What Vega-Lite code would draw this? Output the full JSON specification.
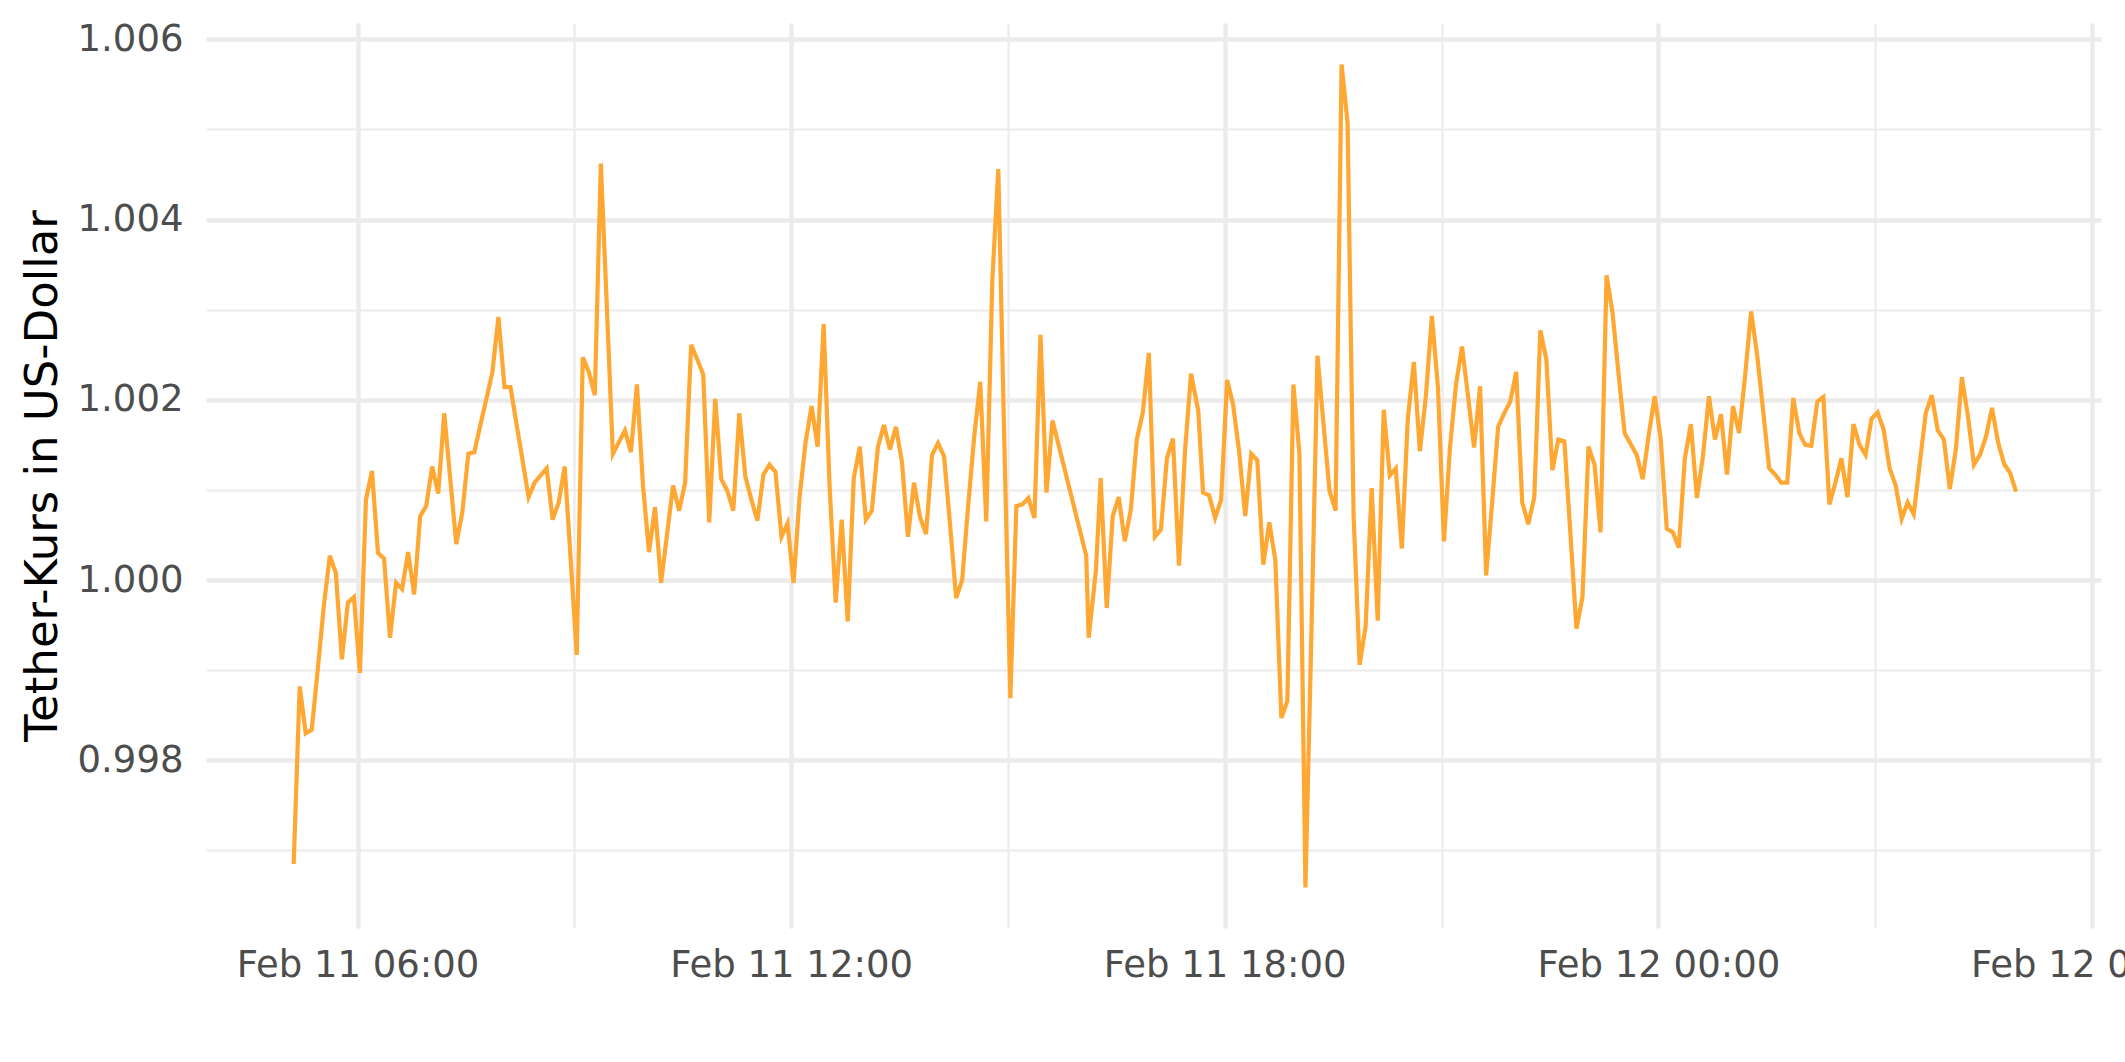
{
  "$schema": "https://vega.github.io/schema/vega-lite/v6.json",
  "width": 1895,
  "height": 905,
  "autosize": {"type": "none"},
  "padding": {"left": 206, "top": 23, "right": 24, "bottom": 134},
  "background": "white",
  "config": {
    "view": {"stroke": null},
    "axis": {
      "domain": false,
      "ticks": false,
      "labelFont": "DejaVu Sans",
      "labelFontSize": 37,
      "labelColor": "#4D4D4D",
      "labelLimit": 1000,
      "gridColor": "#EBEBEB",
      "titleFont": "DejaVu Sans"
    }
  },
  "data": {
    "values": [
      {"t": "2022-02-11T05:07:00Z", "p": 0.99685},
      {"t": "2022-02-11T05:12:00Z", "p": 0.99882},
      {"t": "2022-02-11T05:17:00Z", "p": 0.99830},
      {"t": "2022-02-11T05:22:00Z", "p": 0.99834},
      {"t": "2022-02-11T05:27:00Z", "p": 0.99901},
      {"t": "2022-02-11T05:32:00Z", "p": 0.99971},
      {"t": "2022-02-11T05:37:00Z", "p": 1.00027},
      {"t": "2022-02-11T05:42:00Z", "p": 1.00008},
      {"t": "2022-02-11T05:47:00Z", "p": 0.99912},
      {"t": "2022-02-11T05:52:00Z", "p": 0.99975},
      {"t": "2022-02-11T05:57:00Z", "p": 0.99981},
      {"t": "2022-02-11T06:02:00Z", "p": 0.99897},
      {"t": "2022-02-11T06:07:00Z", "p": 1.00089},
      {"t": "2022-02-11T06:12:00Z", "p": 1.00121},
      {"t": "2022-02-11T06:17:00Z", "p": 1.00030},
      {"t": "2022-02-11T06:22:00Z", "p": 1.00024},
      {"t": "2022-02-11T06:27:00Z", "p": 0.99936},
      {"t": "2022-02-11T06:32:00Z", "p": 0.99997},
      {"t": "2022-02-11T06:37:00Z", "p": 0.99990},
      {"t": "2022-02-11T06:42:00Z", "p": 1.00031},
      {"t": "2022-02-11T06:47:00Z", "p": 0.99984},
      {"t": "2022-02-11T06:52:00Z", "p": 1.00071},
      {"t": "2022-02-11T06:57:00Z", "p": 1.00082},
      {"t": "2022-02-11T07:02:00Z", "p": 1.00126},
      {"t": "2022-02-11T07:07:00Z", "p": 1.00096},
      {"t": "2022-02-11T07:12:00Z", "p": 1.00185},
      {"t": "2022-02-11T07:17:00Z", "p": 1.00112},
      {"t": "2022-02-11T07:22:00Z", "p": 1.00040},
      {"t": "2022-02-11T07:27:00Z", "p": 1.00075},
      {"t": "2022-02-11T07:32:00Z", "p": 1.00140},
      {"t": "2022-02-11T07:37:00Z", "p": 1.00142},
      {"t": "2022-02-11T07:42:00Z", "p": 1.00172},
      {"t": "2022-02-11T07:47:00Z", "p": 1.00201},
      {"t": "2022-02-11T07:52:00Z", "p": 1.00231},
      {"t": "2022-02-11T07:57:00Z", "p": 1.00292},
      {"t": "2022-02-11T08:02:00Z", "p": 1.00214},
      {"t": "2022-02-11T08:07:00Z", "p": 1.00214},
      {"t": "2022-02-11T08:12:00Z", "p": 1.00173},
      {"t": "2022-02-11T08:17:00Z", "p": 1.00133},
      {"t": "2022-02-11T08:22:00Z", "p": 1.00092},
      {"t": "2022-02-11T08:27:00Z", "p": 1.00108},
      {"t": "2022-02-11T08:32:00Z", "p": 1.00116},
      {"t": "2022-02-11T08:37:00Z", "p": 1.00124},
      {"t": "2022-02-11T08:42:00Z", "p": 1.00067},
      {"t": "2022-02-11T08:47:00Z", "p": 1.00086},
      {"t": "2022-02-11T08:52:00Z", "p": 1.00126},
      {"t": "2022-02-11T08:57:00Z", "p": 1.00022},
      {"t": "2022-02-11T09:02:00Z", "p": 0.99917},
      {"t": "2022-02-11T09:07:00Z", "p": 1.00247},
      {"t": "2022-02-11T09:12:00Z", "p": 1.00231},
      {"t": "2022-02-11T09:17:00Z", "p": 1.00205},
      {"t": "2022-02-11T09:22:00Z", "p": 1.00462},
      {"t": "2022-02-11T09:27:00Z", "p": 1.00303},
      {"t": "2022-02-11T09:32:00Z", "p": 1.00140},
      {"t": "2022-02-11T09:37:00Z", "p": 1.00153},
      {"t": "2022-02-11T09:42:00Z", "p": 1.00166},
      {"t": "2022-02-11T09:47:00Z", "p": 1.00142},
      {"t": "2022-02-11T09:52:00Z", "p": 1.00217},
      {"t": "2022-02-11T09:57:00Z", "p": 1.00105},
      {"t": "2022-02-11T10:02:00Z", "p": 1.00031},
      {"t": "2022-02-11T10:07:00Z", "p": 1.00081},
      {"t": "2022-02-11T10:12:00Z", "p": 0.99997},
      {"t": "2022-02-11T10:17:00Z", "p": 1.00051},
      {"t": "2022-02-11T10:22:00Z", "p": 1.00105},
      {"t": "2022-02-11T10:27:00Z", "p": 1.00077},
      {"t": "2022-02-11T10:32:00Z", "p": 1.00108},
      {"t": "2022-02-11T10:37:00Z", "p": 1.00261},
      {"t": "2022-02-11T10:42:00Z", "p": 1.00245},
      {"t": "2022-02-11T10:47:00Z", "p": 1.00228},
      {"t": "2022-02-11T10:52:00Z", "p": 1.00064},
      {"t": "2022-02-11T10:57:00Z", "p": 1.00201},
      {"t": "2022-02-11T11:02:00Z", "p": 1.00112},
      {"t": "2022-02-11T11:07:00Z", "p": 1.00099},
      {"t": "2022-02-11T11:12:00Z", "p": 1.00077},
      {"t": "2022-02-11T11:17:00Z", "p": 1.00185},
      {"t": "2022-02-11T11:22:00Z", "p": 1.00115},
      {"t": "2022-02-11T11:27:00Z", "p": 1.00089},
      {"t": "2022-02-11T11:32:00Z", "p": 1.00066},
      {"t": "2022-02-11T11:37:00Z", "p": 1.00117},
      {"t": "2022-02-11T11:42:00Z", "p": 1.00128},
      {"t": "2022-02-11T11:47:00Z", "p": 1.00120},
      {"t": "2022-02-11T11:52:00Z", "p": 1.00048},
      {"t": "2022-02-11T11:57:00Z", "p": 1.00063},
      {"t": "2022-02-11T12:02:00Z", "p": 0.99997},
      {"t": "2022-02-11T12:07:00Z", "p": 1.00092},
      {"t": "2022-02-11T12:12:00Z", "p": 1.00153},
      {"t": "2022-02-11T12:17:00Z", "p": 1.00193},
      {"t": "2022-02-11T12:22:00Z", "p": 1.00148},
      {"t": "2022-02-11T12:27:00Z", "p": 1.00284},
      {"t": "2022-02-11T12:32:00Z", "p": 1.00102},
      {"t": "2022-02-11T12:37:00Z", "p": 0.99975},
      {"t": "2022-02-11T12:42:00Z", "p": 1.00067},
      {"t": "2022-02-11T12:47:00Z", "p": 0.99954},
      {"t": "2022-02-11T12:52:00Z", "p": 1.00113},
      {"t": "2022-02-11T12:57:00Z", "p": 1.00148},
      {"t": "2022-02-11T13:02:00Z", "p": 1.00067},
      {"t": "2022-02-11T13:07:00Z", "p": 1.00077},
      {"t": "2022-02-11T13:12:00Z", "p": 1.00147},
      {"t": "2022-02-11T13:17:00Z", "p": 1.00172},
      {"t": "2022-02-11T13:22:00Z", "p": 1.00145},
      {"t": "2022-02-11T13:27:00Z", "p": 1.00170},
      {"t": "2022-02-11T13:32:00Z", "p": 1.00131},
      {"t": "2022-02-11T13:37:00Z", "p": 1.00048},
      {"t": "2022-02-11T13:42:00Z", "p": 1.00108},
      {"t": "2022-02-11T13:47:00Z", "p": 1.00070},
      {"t": "2022-02-11T13:52:00Z", "p": 1.00051},
      {"t": "2022-02-11T13:57:00Z", "p": 1.00139},
      {"t": "2022-02-11T14:02:00Z", "p": 1.00152},
      {"t": "2022-02-11T14:07:00Z", "p": 1.00137},
      {"t": "2022-02-11T14:12:00Z", "p": 1.00061},
      {"t": "2022-02-11T14:17:00Z", "p": 0.99980},
      {"t": "2022-02-11T14:22:00Z", "p": 1.00000},
      {"t": "2022-02-11T14:27:00Z", "p": 1.00083},
      {"t": "2022-02-11T14:32:00Z", "p": 1.00159},
      {"t": "2022-02-11T14:37:00Z", "p": 1.00220},
      {"t": "2022-02-11T14:42:00Z", "p": 1.00065},
      {"t": "2022-02-11T14:47:00Z", "p": 1.00331},
      {"t": "2022-02-11T14:52:00Z", "p": 1.00456},
      {"t": "2022-02-11T14:57:00Z", "p": 1.00153},
      {"t": "2022-02-11T15:02:00Z", "p": 0.99869},
      {"t": "2022-02-11T15:07:00Z", "p": 1.00082},
      {"t": "2022-02-11T15:12:00Z", "p": 1.00084},
      {"t": "2022-02-11T15:17:00Z", "p": 1.00091},
      {"t": "2022-02-11T15:22:00Z", "p": 1.00069},
      {"t": "2022-02-11T15:27:00Z", "p": 1.00272},
      {"t": "2022-02-11T15:32:00Z", "p": 1.00097},
      {"t": "2022-02-11T15:37:00Z", "p": 1.00177},
      {"t": "2022-02-11T16:05:00Z", "p": 1.00027},
      {"t": "2022-02-11T16:07:00Z", "p": 0.99936},
      {"t": "2022-02-11T16:13:00Z", "p": 1.00010},
      {"t": "2022-02-11T16:17:00Z", "p": 1.00113},
      {"t": "2022-02-11T16:22:00Z", "p": 0.99969},
      {"t": "2022-02-11T16:27:00Z", "p": 1.00071},
      {"t": "2022-02-11T16:32:00Z", "p": 1.00092},
      {"t": "2022-02-11T16:37:00Z", "p": 1.00043},
      {"t": "2022-02-11T16:42:00Z", "p": 1.00078},
      {"t": "2022-02-11T16:47:00Z", "p": 1.00156},
      {"t": "2022-02-11T16:52:00Z", "p": 1.00186},
      {"t": "2022-02-11T16:57:00Z", "p": 1.00252},
      {"t": "2022-02-11T17:02:00Z", "p": 1.00048},
      {"t": "2022-02-11T17:07:00Z", "p": 1.00056},
      {"t": "2022-02-11T17:12:00Z", "p": 1.00135},
      {"t": "2022-02-11T17:17:00Z", "p": 1.00157},
      {"t": "2022-02-11T17:22:00Z", "p": 1.00016},
      {"t": "2022-02-11T17:27:00Z", "p": 1.00143},
      {"t": "2022-02-11T17:32:00Z", "p": 1.00229},
      {"t": "2022-02-11T17:38:00Z", "p": 1.00188},
      {"t": "2022-02-11T17:42:00Z", "p": 1.00097},
      {"t": "2022-02-11T17:47:00Z", "p": 1.00094},
      {"t": "2022-02-11T17:52:00Z", "p": 1.00069},
      {"t": "2022-02-11T17:57:00Z", "p": 1.00089},
      {"t": "2022-02-11T18:02:00Z", "p": 1.00222},
      {"t": "2022-02-11T18:07:00Z", "p": 1.00194},
      {"t": "2022-02-11T18:12:00Z", "p": 1.00142},
      {"t": "2022-02-11T18:17:00Z", "p": 1.00071},
      {"t": "2022-02-11T18:22:00Z", "p": 1.00140},
      {"t": "2022-02-11T18:27:00Z", "p": 1.00133},
      {"t": "2022-02-11T18:32:00Z", "p": 1.00017},
      {"t": "2022-02-11T18:37:00Z", "p": 1.00064},
      {"t": "2022-02-11T18:42:00Z", "p": 1.00022},
      {"t": "2022-02-11T18:47:00Z", "p": 0.99847},
      {"t": "2022-02-11T18:52:00Z", "p": 0.99866},
      {"t": "2022-02-11T18:57:00Z", "p": 1.00217},
      {"t": "2022-02-11T19:02:00Z", "p": 1.00140},
      {"t": "2022-02-11T19:07:00Z", "p": 0.99659},
      {"t": "2022-02-11T19:12:00Z", "p": 0.99943},
      {"t": "2022-02-11T19:17:00Z", "p": 1.00249},
      {"t": "2022-02-11T19:22:00Z", "p": 1.00173},
      {"t": "2022-02-11T19:27:00Z", "p": 1.00099},
      {"t": "2022-02-11T19:32:00Z", "p": 1.00077},
      {"t": "2022-02-11T19:37:00Z", "p": 1.00572},
      {"t": "2022-02-11T19:42:00Z", "p": 1.00507},
      {"t": "2022-02-11T19:47:00Z", "p": 1.00070},
      {"t": "2022-02-11T19:52:00Z", "p": 0.99906},
      {"t": "2022-02-11T19:57:00Z", "p": 0.99949},
      {"t": "2022-02-11T20:02:00Z", "p": 1.00102},
      {"t": "2022-02-11T20:07:00Z", "p": 0.99955},
      {"t": "2022-02-11T20:12:00Z", "p": 1.00189},
      {"t": "2022-02-11T20:17:00Z", "p": 1.00116},
      {"t": "2022-02-11T20:22:00Z", "p": 1.00124},
      {"t": "2022-02-11T20:27:00Z", "p": 1.00035},
      {"t": "2022-02-11T20:32:00Z", "p": 1.00179},
      {"t": "2022-02-11T20:37:00Z", "p": 1.00242},
      {"t": "2022-02-11T20:42:00Z", "p": 1.00143},
      {"t": "2022-02-11T20:47:00Z", "p": 1.00204},
      {"t": "2022-02-11T20:52:00Z", "p": 1.00293},
      {"t": "2022-02-11T20:57:00Z", "p": 1.00214},
      {"t": "2022-02-11T21:02:00Z", "p": 1.00043},
      {"t": "2022-02-11T21:07:00Z", "p": 1.00147},
      {"t": "2022-02-11T21:12:00Z", "p": 1.00217},
      {"t": "2022-02-11T21:17:00Z", "p": 1.00259},
      {"t": "2022-02-11T21:22:00Z", "p": 1.00204},
      {"t": "2022-02-11T21:27:00Z", "p": 1.00147},
      {"t": "2022-02-11T21:32:00Z", "p": 1.00215},
      {"t": "2022-02-11T21:37:00Z", "p": 1.00005},
      {"t": "2022-02-11T21:42:00Z", "p": 1.00086},
      {"t": "2022-02-11T21:47:00Z", "p": 1.00170},
      {"t": "2022-02-11T21:52:00Z", "p": 1.00185},
      {"t": "2022-02-11T21:57:00Z", "p": 1.00198},
      {"t": "2022-02-11T22:02:00Z", "p": 1.00231},
      {"t": "2022-02-11T22:07:00Z", "p": 1.00086},
      {"t": "2022-02-11T22:12:00Z", "p": 1.00062},
      {"t": "2022-02-11T22:17:00Z", "p": 1.00092},
      {"t": "2022-02-11T22:22:00Z", "p": 1.00277},
      {"t": "2022-02-11T22:27:00Z", "p": 1.00245},
      {"t": "2022-02-11T22:32:00Z", "p": 1.00122},
      {"t": "2022-02-11T22:37:00Z", "p": 1.00156},
      {"t": "2022-02-11T22:42:00Z", "p": 1.00154},
      {"t": "2022-02-11T22:47:00Z", "p": 1.00051},
      {"t": "2022-02-11T22:52:00Z", "p": 0.99946},
      {"t": "2022-02-11T22:57:00Z", "p": 0.99981},
      {"t": "2022-02-11T23:02:00Z", "p": 1.00148},
      {"t": "2022-02-11T23:07:00Z", "p": 1.00128},
      {"t": "2022-02-11T23:12:00Z", "p": 1.00053},
      {"t": "2022-02-11T23:17:00Z", "p": 1.00338},
      {"t": "2022-02-11T23:22:00Z", "p": 1.00296},
      {"t": "2022-02-11T23:27:00Z", "p": 1.00228},
      {"t": "2022-02-11T23:32:00Z", "p": 1.00163},
      {"t": "2022-02-11T23:37:00Z", "p": 1.00151},
      {"t": "2022-02-11T23:42:00Z", "p": 1.00139},
      {"t": "2022-02-11T23:47:00Z", "p": 1.00112},
      {"t": "2022-02-11T23:52:00Z", "p": 1.00161},
      {"t": "2022-02-11T23:57:00Z", "p": 1.00204},
      {"t": "2022-02-12T00:02:00Z", "p": 1.00156},
      {"t": "2022-02-12T00:07:00Z", "p": 1.00057},
      {"t": "2022-02-12T00:12:00Z", "p": 1.00053},
      {"t": "2022-02-12T00:17:00Z", "p": 1.00036},
      {"t": "2022-02-12T00:22:00Z", "p": 1.00135},
      {"t": "2022-02-12T00:27:00Z", "p": 1.00173},
      {"t": "2022-02-12T00:32:00Z", "p": 1.00091},
      {"t": "2022-02-12T00:37:00Z", "p": 1.00137},
      {"t": "2022-02-12T00:42:00Z", "p": 1.00204},
      {"t": "2022-02-12T00:47:00Z", "p": 1.00156},
      {"t": "2022-02-12T00:52:00Z", "p": 1.00184},
      {"t": "2022-02-12T00:57:00Z", "p": 1.00117},
      {"t": "2022-02-12T01:02:00Z", "p": 1.00193},
      {"t": "2022-02-12T01:07:00Z", "p": 1.00163},
      {"t": "2022-02-12T01:12:00Z", "p": 1.00226},
      {"t": "2022-02-12T01:17:00Z", "p": 1.00298},
      {"t": "2022-02-12T01:22:00Z", "p": 1.00250},
      {"t": "2022-02-12T01:27:00Z", "p": 1.00188},
      {"t": "2022-02-12T01:32:00Z", "p": 1.00124},
      {"t": "2022-02-12T01:37:00Z", "p": 1.00117},
      {"t": "2022-02-12T01:42:00Z", "p": 1.00108},
      {"t": "2022-02-12T01:47:00Z", "p": 1.00108},
      {"t": "2022-02-12T01:52:00Z", "p": 1.00202},
      {"t": "2022-02-12T01:57:00Z", "p": 1.00163},
      {"t": "2022-02-12T02:02:00Z", "p": 1.00150},
      {"t": "2022-02-12T02:07:00Z", "p": 1.00149},
      {"t": "2022-02-12T02:12:00Z", "p": 1.00198},
      {"t": "2022-02-12T02:17:00Z", "p": 1.00203},
      {"t": "2022-02-12T02:22:00Z", "p": 1.00084},
      {"t": "2022-02-12T02:27:00Z", "p": 1.00108},
      {"t": "2022-02-12T02:32:00Z", "p": 1.00135},
      {"t": "2022-02-12T02:37:00Z", "p": 1.00092},
      {"t": "2022-02-12T02:42:00Z", "p": 1.00173},
      {"t": "2022-02-12T02:47:00Z", "p": 1.00150},
      {"t": "2022-02-12T02:52:00Z", "p": 1.00139},
      {"t": "2022-02-12T02:57:00Z", "p": 1.00179},
      {"t": "2022-02-12T03:02:00Z", "p": 1.00186},
      {"t": "2022-02-12T03:07:00Z", "p": 1.00167},
      {"t": "2022-02-12T03:12:00Z", "p": 1.00124},
      {"t": "2022-02-12T03:17:00Z", "p": 1.00105},
      {"t": "2022-02-12T03:22:00Z", "p": 1.00068},
      {"t": "2022-02-12T03:27:00Z", "p": 1.00086},
      {"t": "2022-02-12T03:32:00Z", "p": 1.00073},
      {"t": "2022-02-12T03:37:00Z", "p": 1.00129},
      {"t": "2022-02-12T03:42:00Z", "p": 1.00185},
      {"t": "2022-02-12T03:47:00Z", "p": 1.00205},
      {"t": "2022-02-12T03:52:00Z", "p": 1.00166},
      {"t": "2022-02-12T03:57:00Z", "p": 1.00156},
      {"t": "2022-02-12T04:02:00Z", "p": 1.00101},
      {"t": "2022-02-12T04:07:00Z", "p": 1.00145},
      {"t": "2022-02-12T04:12:00Z", "p": 1.00225},
      {"t": "2022-02-12T04:17:00Z", "p": 1.00182},
      {"t": "2022-02-12T04:22:00Z", "p": 1.00128},
      {"t": "2022-02-12T04:27:00Z", "p": 1.00139},
      {"t": "2022-02-12T04:32:00Z", "p": 1.00159},
      {"t": "2022-02-12T04:37:00Z", "p": 1.00191},
      {"t": "2022-02-12T04:42:00Z", "p": 1.00153},
      {"t": "2022-02-12T04:47:00Z", "p": 1.00129},
      {"t": "2022-02-12T04:52:00Z", "p": 1.00119},
      {"t": "2022-02-12T04:57:00Z", "p": 1.00098}
    ]
  },
  "layer": [
    {
      "mark": {"type": "line", "strokeOpacity": 0},
      "encoding": {
        "x": {
          "field": "t",
          "type": "temporal",
          "scale": {
            "type": "utc",
            "domain": [
              {"year": 2022, "month": "Feb", "date": 11, "hours": 3, "minutes": 54, "seconds": 12, "utc": true},
              {"year": 2022, "month": "Feb", "date": 12, "hours": 6, "minutes": 7, "seconds": 30, "utc": true}
            ]
          },
          "axis": {
            "orient": "bottom",
            "values": [
              {"year": 2022, "month": "Feb", "date": 11, "hours": 9, "utc": true},
              {"year": 2022, "month": "Feb", "date": 11, "hours": 15, "utc": true},
              {"year": 2022, "month": "Feb", "date": 11, "hours": 21, "utc": true},
              {"year": 2022, "month": "Feb", "date": 12, "hours": 3, "utc": true}
            ],
            "labels": false,
            "grid": true,
            "gridWidth": 2.2,
            "title": null
          }
        },
        "y": {
          "field": "p",
          "type": "quantitative",
          "scale": {"domain": [0.99614, 1.00618], "zero": false, "nice": false},
          "axis": {
            "orient": "left",
            "values": [0.997, 0.999, 1.001, 1.003, 1.005],
            "labels": false,
            "grid": true,
            "gridWidth": 2.2,
            "title": null
          }
        }
      }
    },
    {
      "mark": {"type": "line", "color": "#FFA733", "strokeWidth": 4.2},
      "encoding": {
        "x": {
          "field": "t",
          "type": "temporal",
          "axis": {
            "orient": "bottom",
            "values": [
              {"year": 2022, "month": "Feb", "date": 11, "hours": 6, "utc": true},
              {"year": 2022, "month": "Feb", "date": 11, "hours": 12, "utc": true},
              {"year": 2022, "month": "Feb", "date": 11, "hours": 18, "utc": true},
              {"year": 2022, "month": "Feb", "date": 12, "hours": 0, "utc": true},
              {"year": 2022, "month": "Feb", "date": 12, "hours": 6, "utc": true}
            ],
            "labelExpr": "utcFormat(datum.value, '%b %d %H:%M')",
            "grid": true,
            "gridWidth": 4.4,
            "labelPadding": 19,
            "labelLimit": 1000,
            "labelFlush": false,
            "labelOverlap": false,
            "labelBound": false,
            "title": null
          }
        },
        "y": {
          "field": "p",
          "type": "quantitative",
          "axis": {
            "orient": "left",
            "values": [0.998, 1.0, 1.002, 1.004, 1.006],
            "format": ".3f",
            "grid": true,
            "gridWidth": 4.4,
            "labelPadding": 23,
            "title": "Tether-Kurs in US-Dollar",
            "titleFontSize": 45,
            "titleColor": "#000000",
            "titleFontWeight": "normal",
            "titleAngle": -90,
            "titleX": -150,
            "titleY": 452.5,
            "titleAlign": "center",
            "titleBaseline": "alphabetic"
          }
        }
      }
    }
  ],
  "resolve": {"axis": {"x": "independent", "y": "independent"}}
}
